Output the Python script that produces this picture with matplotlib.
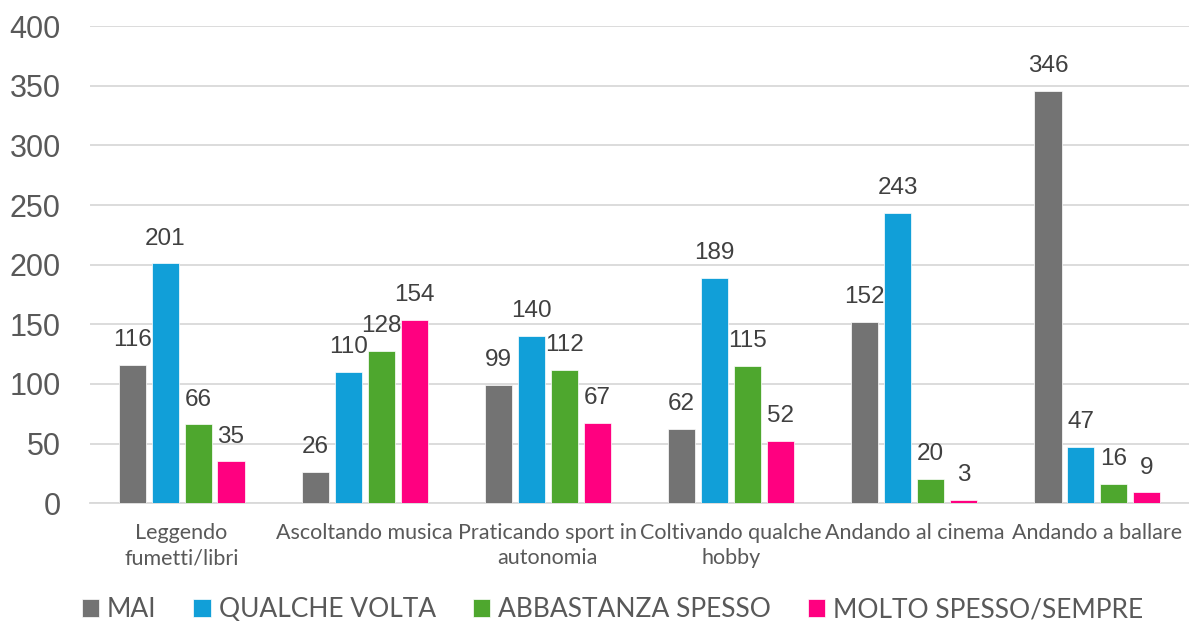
import matplotlib
matplotlib.use("Agg")
import matplotlib.pyplot as plt
import numpy as np

categories = ["Leggendo\nfumetti/libri", "Ascoltando musica", "Praticando sport in\nautonomia",
              "Coltivando qualche\nhobby", "Andando al cinema", "Andando a ballare"]
series_names = ["MAI", "QUALCHE VOLTA", "ABBASTANZA SPESSO", "MOLTO SPESSO/SEMPRE"]
mai = [116, 26, 99, 62, 152, 346]
qualche_volta = [201, 110, 140, 189, 243, 47]
abbastanza = [66, 128, 112, 115, 20, 16]
molto = [35, 154, 67, 52, 3, 9]
yticks = [0, 50, 100, 150, 200, 250, 300, 350, 400]

colors = ["#737373", "#119FD8", "#4EA72E", "#FF0080"]
series = [mai, qualche_volta, abbastanza, molto]

fig = plt.figure(figsize=(11.89, 6.22), dpi=100)
ax = fig.add_axes([0.0757, 0.191, 0.9243, 0.767])

x = np.arange(len(categories))
step = 0.18
width = 0.148
for i, (vals, c, name) in enumerate(zip(series, colors, series_names)):
    pos = x + (i - 1.5) * step
    ax.bar(pos, vals, width=width, color=c, label=name, zorder=3,
           edgecolor="white", linewidth=0.5)
    for p, v in zip(pos, vals):
        ax.annotate(str(v), (p, v), xytext=(0, 10), textcoords="offset points",
                    ha="center", va="bottom", fontsize=17.5, color="#404040",
                    family="Liberation Sans")

ax.set_xlim(-0.5, len(categories) - 0.5)
ax.set_ylim(0, 400)
ax.set_yticks(yticks)
ax.set_yticklabels([str(t) for t in yticks], fontsize=22, color="#595959", family="Liberation Sans")
ax.tick_params(axis="y", length=0, pad=21)
ax.set_xticks(x)
ax.set_xticklabels(categories, fontsize=15.5, color="#595959", family="Lato", linespacing=1.35)
ax.tick_params(axis="x", length=0, pad=14)
ax.grid(axis="y", color="#D9D9D9", linewidth=1.3, zorder=0)
for s in ["top", "right", "left"]:
    ax.spines[s].set_visible(False)
ax.spines["bottom"].set_color("#D9D9D9")
ax.spines["bottom"].set_linewidth(1.3)

handles, labels = ax.get_legend_handles_labels()
fig.legend(handles, labels, loc="center", bbox_to_anchor=(0.515, 0.02), ncol=4, frameon=False,
           prop={"family": "Lato", "size": 19}, labelcolor="#595959",
           handlelength=0.65, handleheight=0.65, handletextpad=0.3, columnspacing=1.4)

fig.savefig("out.png", dpi=100)
